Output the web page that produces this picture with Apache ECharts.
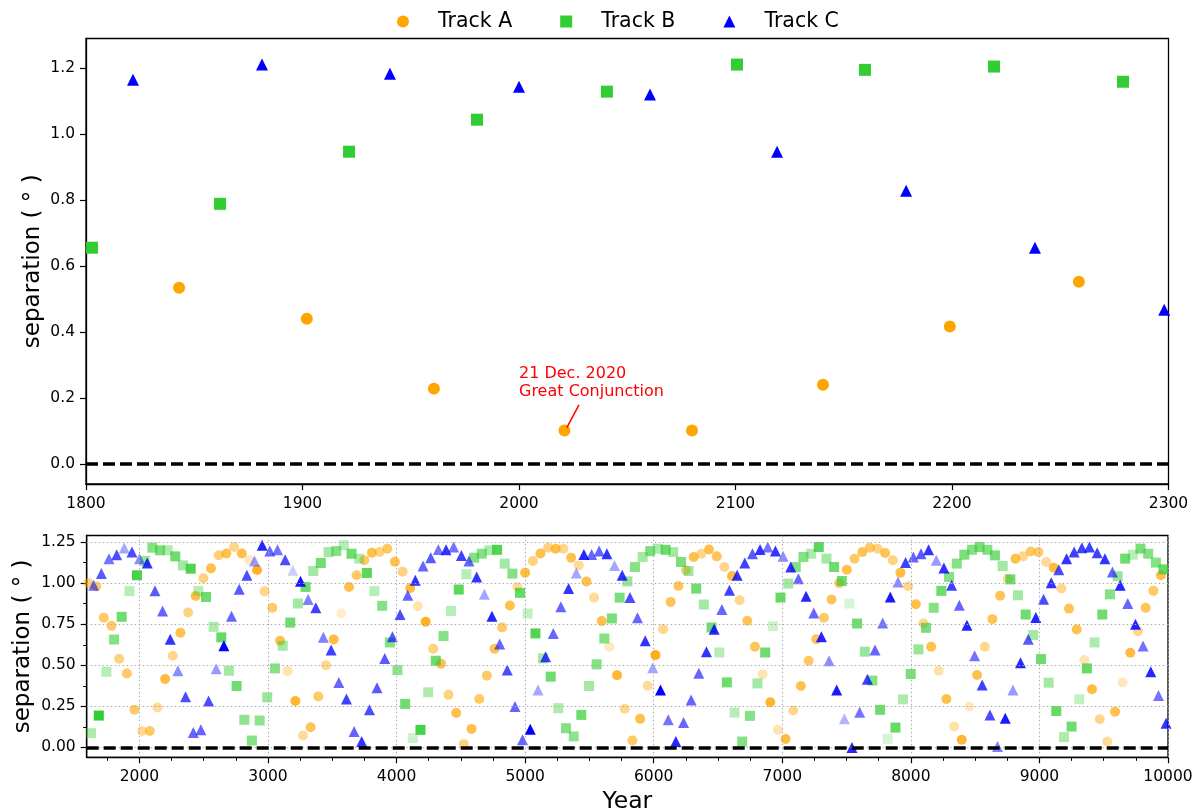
<!DOCTYPE html>
<html>
<head>
<meta charset="utf-8">
<script src="https://cdn.jsdelivr.net/npm/echarts@6/dist/echarts.min.js"></script>
<style>
html,body{margin:0;padding:0;background:#fff;}
#chart{width:1200px;height:809px;}
</style>
</head>
<body>
<div id="chart"></div>
<script>
// ---------------- DATA ----------------
// Top panel (1800-2300)
const topYearsA = [1843.0, 1902.0, 1960.7, 2021.0, 2079.9, 2140.4, 2199.0, 2258.6];
const topSepA   = [0.535, 0.441, 0.229, 0.102, 0.102, 0.241, 0.417, 0.553];
const topYearsB = [1802.8, 1861.9, 1921.5, 1980.6, 2040.6, 2100.7, 2159.8, 2219.4, 2279.0];
const topSepB   = [0.656, 0.789, 0.947, 1.044, 1.129, 1.211, 1.195, 1.205, 1.159];
const topYearsC = [1821.7, 1881.3, 1940.4, 2000.0, 2060.5, 2119.2, 2178.8, 2238.3, 2298.0];
const topSepC   = [1.165, 1.211, 1.183, 1.144, 1.120, 0.947, 0.829, 0.656, 0.468];

// Bottom panel (long-term)
const yearsA = [1604,1664,1723,1783,1842,1902,1961,2021,2081,2140,2200,2259,2319,2379,2438,2498,2557,2617,2676,2736,
2796,2855,2915,2974,3034,3094,3153,3213,3272,3332,3391,3451,3511,3570,3630,3689,3749,3808,3868,3928,
3987,4047,4106,4166,4226,4285,4345,4404,4464,4523,4583,4643,4702,4762,4821,4881,4940,5000,5060,5119,
5179,5238,5298,5358,5417,5477,5536,5596,5655,5715,5775,5834,5894,5953,6013,6073,6132,6192,6251,6311,
6370,6430,6490,6549,6609,6668,6728,6787,6847,6907,6966,7026,7085,7145,7205,7264,7324,7383,7443,7502,
7562,7622,7681,7741,7800,7860,7919,7979,8039,8098,8158,8217,8277,8337,8396,8456,8515,8575,8634,8694,
8754,8813,8873,8932,8992,9052,9111,9171,9230,9290,9349,9409,9469,9528,9588,9647,9707,9766,9826,9886,9945];
const sepA = [1.00,0.98,0.79,0.74,0.54,0.45,0.23,0.10,0.10,0.243,0.417,0.558,0.698,0.821,0.922,1.03,1.09,1.17,1.18,1.22,
1.18,1.14,1.08,0.95,0.85,0.65,0.465,0.283,0.073,0.123,0.31,0.50,0.657,0.815,0.977,1.048,1.14,1.185,1.19,1.21,
1.13,1.07,0.97,0.86,0.765,0.60,0.51,0.32,0.21,0.02,0.113,0.295,0.437,0.60,0.73,0.864,0.977,1.064,1.135,1.18,
1.216,1.21,1.21,1.155,1.108,1.01,0.912,0.77,0.613,0.44,0.235,0.042,0.174,0.376,0.562,0.72,0.886,0.983,1.078,1.159,
1.179,1.205,1.163,1.098,1.044,0.896,0.771,0.613,0.445,0.275,0.107,0.051,0.225,0.374,0.528,0.659,0.789,0.90,1.00,1.082,
1.149,1.189,1.216,1.21,1.183,1.139,1.064,0.981,0.872,0.754,0.613,0.467,0.295,0.127,0.047,0.249,0.441,0.613,0.781,0.924,
1.027,1.149,1.163,1.193,1.189,1.129,1.094,0.967,0.845,0.718,0.532,0.354,0.172,0.036,0.218,0.396,0.576,0.708,0.85,0.953,1.048];
const alphaA = [0.5,0.6,0.6,0.6,0.5,0.6,0.6,0.4,0.6,0.4,0.75,0.45,0.7,0.5,0.7,0.5,0.7,0.55,0.7,0.45,
0.7,0.25,0.85,0.45,0.6,0.7,0.3,0.8,0.4,0.65,0.6,0.45,0.75,0.2,0.7,0.6,0.6,0.7,0.5,0.6,
0.7,0.5,0.75,0.3,0.85,0.5,0.7,0.5,0.7,0.5,0.7,0.6,0.6,0.65,0.6,0.7,0.4,0.75,0.5,0.7,
0.5,0.7,0.45,0.7,0.4,0.7,0.4,0.7,0.25,0.8,0.45,0.6,0.7,0.4,0.9,0.45,0.65,0.65,0.55,0.7,
0.45,0.7,0.65,0.45,0.75,0.45,0.65,0.65,0.3,0.8,0.3,0.75,0.45,0.7,0.6,0.65,0.6,0.65,0.6,0.7,
0.6,0.65,0.6,0.5,0.65,0.5,0.75,0.45,0.7,0.45,0.7,0.35,0.7,0.35,0.8,0.25,0.7,0.45,0.65,0.65,
0.4,0.7,0.45,0.6,0.6,0.4,0.75,0.45,0.65,0.7,0.3,0.75,0.45,0.4,0.7,0.25,0.75,0.45,0.65,0.6,0.7];

const yearsB = [1624,1684,1743,1803,1862,1922,1981,2041,2101,2160,2220,2279,2339,2399,2458,2518,2577,2637,2696,2756,
2816,2875,2935,2994,3054,3114,3173,3233,3292,3352,3411,3471,3531,3590,3650,3709,3769,3828,3888,3948,
4007,4067,4126,4186,4246,4305,4365,4424,4484,4543,4603,4663,4722,4782,4841,4901,4960,5020,5080,5139,
5199,5258,5318,5378,5437,5497,5556,5616,5675,5735,5795,5854,5914,5973,6033,6093,6152,6212,6271,6331,
6390,6450,6510,6569,6629,6688,6748,6807,6867,6927,6986,7046,7105,7165,7225,7284,7344,7403,7463,7522,
7582,7642,7701,7761,7820,7880,7939,7999,8059,8118,8178,8237,8297,8357,8416,8476,8535,8595,8654,8714,
8774,8833,8893,8952,9012,9072,9131,9191,9250,9310,9369,9429,9489,9548,9608,9667,9727,9786,9846,9906,9965];
const sepB = [0.087,0.194,0.461,0.657,0.795,0.951,1.048,1.135,1.216,1.20,1.20,1.163,1.108,1.088,0.953,0.916,0.734,0.67,0.467,0.374,
0.168,0.042,0.164,0.305,0.481,0.619,0.76,0.876,0.977,1.074,1.123,1.189,1.195,1.23,1.179,1.149,1.062,0.951,0.862,0.639,
0.471,0.265,0.057,0.107,0.336,0.528,0.678,0.831,0.961,1.054,1.155,1.179,1.20,1.203,1.119,1.058,0.941,0.815,0.694,0.542,
0.431,0.239,0.117,0.067,0.198,0.374,0.506,0.663,0.785,0.912,1.011,1.098,1.159,1.195,1.21,1.203,1.189,1.129,1.074,0.967,
0.87,0.73,0.578,0.396,0.212,0.036,0.192,0.39,0.578,0.738,0.912,0.997,1.098,1.159,1.179,1.22,1.149,1.098,1.013,0.876,
0.754,0.583,0.407,0.229,0.053,0.121,0.293,0.447,0.597,0.728,0.85,0.953,1.038,1.119,1.173,1.203,1.22,1.203,1.169,1.104,
1.023,0.926,0.809,0.684,0.538,0.394,0.222,0.063,0.127,0.293,0.481,0.639,0.809,0.932,1.042,1.149,1.173,1.21,1.179,1.125,1.084];
const alphaB = [0.4,1.0,0.35,0.6,0.7,0.35,0.9,0.5,0.6,0.65,0.4,0.7,0.45,0.85,0.35,0.7,0.4,0.75,0.45,0.7,
0.55,0.6,0.55,0.5,0.6,0.45,0.7,0.45,0.7,0.45,0.7,0.45,0.6,0.35,0.7,0.4,0.8,0.35,0.6,0.6,
0.55,0.7,0.25,0.9,0.4,0.7,0.6,0.35,0.8,0.35,0.6,0.6,0.4,0.85,0.45,0.6,0.75,0.3,0.85,0.45,
0.7,0.4,0.6,0.55,0.7,0.45,0.6,0.6,0.65,0.65,0.5,0.6,0.45,0.65,0.4,0.7,0.45,0.65,0.45,0.7,
0.45,0.7,0.35,0.7,0.35,0.6,0.6,0.45,0.7,0.25,0.75,0.45,0.6,0.6,0.4,0.8,0.45,0.7,0.7,0.2,
0.7,0.5,0.6,0.7,0.2,0.75,0.4,0.65,0.5,0.65,0.6,0.7,0.6,0.6,0.65,0.6,0.65,0.6,0.65,0.45,
0.7,0.45,0.7,0.45,0.7,0.45,0.75,0.4,0.7,0.3,0.75,0.4,0.7,0.6,0.5,0.7,0.35,0.65,0.6,0.6,0.75];

const yearsC = [1644,1704,1763,1823,1882,1942,2001,2061,2121,2180,2240,2299,2359,2419,2478,2538,2597,2657,2716,2776,
2836,2895,2955,3014,3074,3134,3193,3253,3312,3372,3431,3491,3551,3610,3670,3729,3789,3848,3908,3968,
4027,4087,4146,4206,4266,4325,4385,4444,4504,4563,4623,4683,4742,4802,4861,4921,4980,5040,5100,5159,
5219,5278,5338,5398,5457,5517,5576,5636,5695,5755,5815,5874,5934,5993,6053,6113,6172,6232,6291,6351,
6410,6470,6530,6589,6649,6708,6768,6827,6887,6947,7006,7066,7125,7185,7245,7304,7364,7423,7483,7542,
7602,7662,7721,7781,7840,7900,7959,8019,8079,8138,8198,8257,8317,8377,8436,8496,8555,8615,8674,8734,
8794,8853,8913,8972,9032,9092,9151,9211,9270,9330,9389,9449,9509,9568,9628,9687,9747,9806,9866,9926,9985];
const sepC = [0.987,1.058,1.149,1.173,1.214,1.189,1.149,1.123,0.953,0.831,0.659,0.467,0.309,0.091,0.107,0.283,0.479,0.619,0.799,0.963,
1.048,1.135,1.23,1.195,1.203,1.143,1.078,1.011,0.90,0.85,0.67,0.593,0.396,0.295,0.097,0.036,0.229,0.364,0.542,0.674,
0.809,0.926,1.017,1.104,1.155,1.205,1.203,1.22,1.169,1.135,1.038,0.932,0.799,0.629,0.471,0.249,0.047,0.111,0.35,0.552,
0.694,0.856,0.967,1.062,1.175,1.175,1.195,1.179,1.108,1.048,0.912,0.789,0.649,0.485,0.35,0.168,0.036,0.152,0.289,0.451,
0.583,0.72,0.839,0.957,1.048,1.123,1.179,1.205,1.22,1.195,1.163,1.098,1.027,0.92,0.819,0.674,0.528,0.35,0.174,0.0,
0.214,0.415,0.593,0.758,0.916,1.007,1.125,1.159,1.179,1.203,1.139,1.092,0.987,0.866,0.744,0.558,0.38,0.198,0.006,0.178,
0.35,0.516,0.659,0.791,0.902,1.003,1.082,1.149,1.189,1.216,1.22,1.185,1.149,1.068,0.987,0.876,0.75,0.617,0.461,0.316,0.148];
const alphaC = [0.55,0.65,0.55,0.7,0.35,0.7,0.45,0.8,0.65,0.6,0.8,0.45,0.7,0.6,0.6,0.7,0.4,1.0,0.6,0.65,
0.7,0.4,0.85,0.6,0.55,0.7,0.2,0.9,0.5,0.75,0.5,0.75,0.6,0.75,0.6,0.8,0.7,0.65,0.65,0.65,
0.7,0.6,0.8,0.6,0.65,0.55,0.8,0.55,0.75,0.6,0.8,0.35,0.85,0.6,0.7,0.6,0.6,1.0,0.35,0.75,
0.6,0.6,0.8,0.35,0.85,0.6,0.6,0.8,0.35,0.8,0.7,0.6,0.8,0.35,1.0,0.55,0.85,0.6,0.6,0.6,
0.8,0.85,0.6,0.75,0.8,0.75,0.65,0.8,0.55,0.8,0.45,0.8,0.6,0.85,0.6,0.85,0.45,0.9,0.3,0.85,
0.55,0.75,0.6,0.55,0.9,0.45,0.75,0.6,0.65,0.8,0.4,0.8,0.75,0.6,0.85,0.55,0.75,0.7,0.5,0.9,
0.4,0.85,0.65,0.85,0.7,0.8,0.7,0.8,0.75,0.75,0.75,0.75,0.8,0.6,0.85,0.6,0.85,0.55,0.85,0.55,0.8];

// Tick values
const topYTicks = [0.0, 0.2, 0.4, 0.6, 0.8, 1.0, 1.2];
const bottomXTicks = [2000, 3000, 4000, 5000, 6000, 7000, 8000, 9000, 10000];
const bottomXMinorTicks = [1750, 2250, 2500, 2750, 3250, 3500, 3750, 4250, 4500, 4750, 5250, 5500, 5750,
  6250, 6500, 6750, 7250, 7500, 7750, 8250, 8500, 8750, 9250, 9500, 9750];
const bottomYTicks = [0.0, 0.25, 0.5, 0.75, 1.0, 1.25];
const bottomYMinorTicks = [0.125, 0.375, 0.625, 0.875, 1.125];

const trackNames = ['Track A', 'Track B', 'Track C'];
const annotationText = '21 Dec. 2020\nGreat Conjunction';

// ---------------- CHART ----------------
const FONT = 'DejaVu Sans';
const COL_A = '#FFA500', COL_B = '#32CD32', COL_C = '#0000FF';

function pairs(xs, ys) {
  const n = Math.min(xs.length, ys.length);
  const out = [];
  for (let i = 0; i < n; i++) out.push([xs[i], ys[i]]);
  return out;
}
function pts(xs, ys, al) {
  const n = Math.min(xs.length, ys.length, al.length);
  const out = [];
  for (let i = 0; i < n; i++) out.push({ value: [xs[i], ys[i]], itemStyle: { opacity: al[i] } });
  return out;
}

const axisLineStyle = { show: true, onZero: false, lineStyle: { color: '#000', width: 1.3 } };
const labelStyle = { color: '#000', fontSize: 15.5, fontFamily: FONT };

const chart = echarts.init(document.getElementById('chart'), null, { renderer: 'canvas' });

const dashed = { color: '#000', width: 3.5, type: [12, 5] };
const gridDot = { color: '#aaaaaa', width: 1, type: [1.5, 2.5] };

const option = {
  animation: false,
  backgroundColor: '#fff',
  textStyle: { fontFamily: FONT },
  legend: {
    data: [
      { name: trackNames[0], icon: 'circle' },
      { name: trackNames[1], icon: 'rect' },
      { name: trackNames[2], icon: 'triangle' }
    ],
    left: 392, top: 6,
    itemWidth: 12, itemHeight: 12, itemGap: 48,
    textStyle: { fontSize: 20.5, fontFamily: FONT, color: '#000', padding: [0, 0, 0, 24] },
    selectedMode: false
  },
  grid: [
    { left: 86, right: 31.5, top: 38.5, height: 445.5, show: true, borderColor: '#000', borderWidth: 1.3,
      outerBoundsMode: 'none', containLabel: false },
    { left: 86.7, right: 32, top: 535.5, height: 221.8, show: true, borderColor: '#000', borderWidth: 1.3,
      outerBoundsMode: 'none', containLabel: false }
  ],
  xAxis: [
    {
      gridIndex: 0, type: 'value', min: 1800, max: 2300, interval: 100,
      axisLine: axisLineStyle,
      axisTick: { show: true, inside: false, length: 6, lineStyle: { color: '#000', width: 1.2 } },
      axisLabel: Object.assign({ margin: 12, formatter: v => String(v) }, labelStyle),
      splitLine: { show: false }
    },
    {
      gridIndex: 1, type: 'value', min: 1590, max: 10000, position: 'bottom',
      axisLine: axisLineStyle,
      axisTick: { show: true, length: 6, customValues: bottomXTicks, lineStyle: { color: '#000', width: 1.2 } },
      axisLabel: Object.assign({ margin: 12, customValues: bottomXTicks, formatter: v => String(v) }, labelStyle),
      splitLine: { show: false },
      name: 'Year', nameLocation: 'middle', nameGap: 33, nameMoveOverlap: false,
      nameTextStyle: { fontSize: 23.5, color: '#000', fontFamily: FONT }
    },
    {
      gridIndex: 1, type: 'value', min: 1590, max: 10000, position: 'bottom',
      axisLine: { show: false, onZero: false },
      axisTick: { show: true, length: 3.5, customValues: bottomXMinorTicks, lineStyle: { color: '#000', width: 1 } },
      axisLabel: { show: false },
      splitLine: { show: false }
    }
  ],
  yAxis: [
    {
      gridIndex: 0, type: 'value', min: -0.06, max: 1.29,
      axisLine: axisLineStyle,
      axisTick: { show: true, length: 6, customValues: topYTicks, lineStyle: { color: '#000', width: 1.2 } },
      axisLabel: Object.assign({ margin: 11, customValues: topYTicks, formatter: v => v.toFixed(1) }, labelStyle),
      splitLine: { show: false },
      name: 'separation ( ° )', nameLocation: 'middle', nameGap: 41, nameRotate: 90, nameMoveOverlap: false,
      nameTextStyle: { fontSize: 23, color: '#000', fontFamily: FONT }
    },
    {
      gridIndex: 1, type: 'value', min: -0.06, max: 1.29,
      axisLine: axisLineStyle,
      axisTick: { show: true, length: 6, customValues: bottomYTicks, lineStyle: { color: '#000', width: 1.2 } },
      axisLabel: Object.assign({ margin: 11, customValues: bottomYTicks, formatter: v => v.toFixed(2) }, labelStyle),
      splitLine: { show: false },
      name: 'separation ( ° )', nameLocation: 'middle', nameGap: 52, nameRotate: 90, nameMoveOverlap: false,
      nameTextStyle: { fontSize: 23, color: '#000', fontFamily: FONT }
    },
    {
      gridIndex: 1, type: 'value', min: -0.06, max: 1.29, position: 'left',
      axisLine: { show: false, onZero: false },
      axisTick: { show: true, length: 3.5, customValues: bottomYMinorTicks, lineStyle: { color: '#000', width: 1 } },
      axisLabel: { show: false },
      splitLine: { show: false }
    }
  ],
  series: [
    // bottom grid lines (helper)
    {
      type: 'scatter', xAxisIndex: 1, yAxisIndex: 1, data: [], silent: true, z: 1,
      markLine: {
        silent: true, symbol: 'none', label: { show: false },
        lineStyle: gridDot, animation: false,
        data: bottomXTicks.map(v => ({ xAxis: v })).concat(bottomYTicks.map(v => ({ yAxis: v })))
      }
    },
    // top panel
    {
      name: trackNames[0], type: 'scatter', xAxisIndex: 0, yAxisIndex: 0,
      symbol: 'circle', symbolSize: 12, itemStyle: { color: COL_A, opacity: 1 },
      data: pairs(topYearsA, topSepA), z: 3,
      markLine: {
        silent: true, symbol: 'none', label: { show: false }, animation: false,
        data: [
          { yAxis: 0, lineStyle: dashed },
          [ { coord: [2027.7, 0.180], lineStyle: { color: '#ff0000', width: 1.5, type: 'solid' } },
            { coord: [2022.1, 0.111] } ]
        ]
      },
      markPoint: {
        silent: true, animation: false,
        data: [{
          coord: [2000, 0.192], symbol: 'circle', symbolSize: 0.01,
          itemStyle: { color: 'rgba(0,0,0,0)' },
          label: {
            show: true, formatter: annotationText, position: [0, 0],
            align: 'left', verticalAlign: 'bottom',
            color: '#ff0000', fontSize: 16, lineHeight: 18, fontFamily: FONT
          }
        }]
      }
    },
    {
      name: trackNames[1], type: 'scatter', xAxisIndex: 0, yAxisIndex: 0,
      symbol: 'rect', symbolSize: 12, itemStyle: { color: COL_B, opacity: 1 },
      data: pairs(topYearsB, topSepB), z: 3
    },
    {
      name: trackNames[2], type: 'scatter', xAxisIndex: 0, yAxisIndex: 0,
      symbol: 'triangle', symbolSize: 12, itemStyle: { color: COL_C, opacity: 1 },
      data: pairs(topYearsC, topSepC), z: 3
    },
    // bottom panel
    {
      name: trackNames[0], type: 'scatter', xAxisIndex: 1, yAxisIndex: 1,
      symbol: 'circle', symbolSize: 10, itemStyle: { color: COL_A },
      data: pts(yearsA, sepA, alphaA), z: 2
    },
    {
      name: trackNames[1], type: 'scatter', xAxisIndex: 1, yAxisIndex: 1,
      symbol: 'rect', symbolSize: 10, itemStyle: { color: COL_B },
      data: pts(yearsB, sepB, alphaB), z: 2
    },
    {
      name: trackNames[2], type: 'scatter', xAxisIndex: 1, yAxisIndex: 1,
      symbol: 'triangle', symbolSize: 11, itemStyle: { color: COL_C },
      data: pts(yearsC, sepC, alphaC), z: 2,
      markLine: {
        silent: true, symbol: 'none', label: { show: false }, animation: false,
        data: [{ yAxis: 0, lineStyle: dashed }]
      }
    }
  ]
};
chart.setOption(option);
</script>
</body>
</html>
